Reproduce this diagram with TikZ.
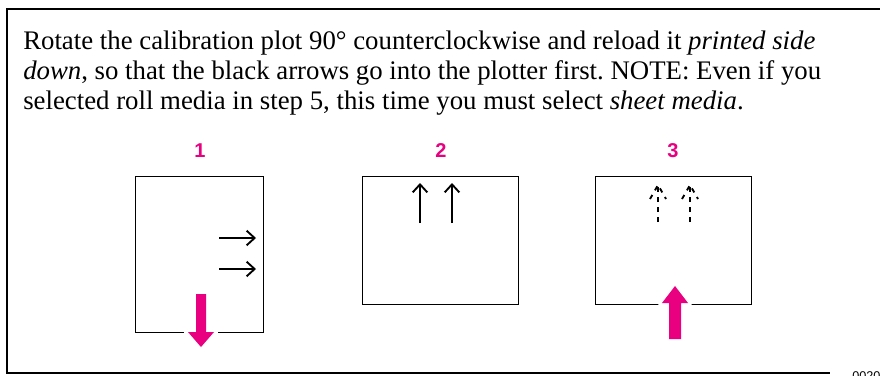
\documentclass[tikz,border=0pt]{standalone}
\usepackage{fontspec}
\setmainfont{Liberation Serif}
\newfontfamily\stepfont{Liberation Sans}
\usetikzlibrary{arrows.meta, positioning, calc}
\definecolor{feedpink}{RGB}{232,0,128}
\frenchspacing

\begin{document}
\begin{tikzpicture}[
    x=0.75pt, y=-0.75pt,
    sheet/.style={rectangle, draw, line width=0.8pt, inner sep=0pt, anchor=north west},
    steplabel/.style={text=feedpink, font=\stepfont\bfseries\fontsize{15}{15}\selectfont, inner sep=0pt, anchor=base},
    plotarrow/.style={line width=1.4pt, -{Straight Barb[length=6pt, width=11pt]}},
    dashplot/.style={line width=1.4pt, dash pattern=on 3.5pt off 4pt},
    feed/.style={fill=feedpink, preaction={draw=white, line width=6pt, line join=round}}
]
\useasboundingbox (0,0) rectangle (880,375);

% frame
\draw[line width=1pt] (880,9) -- (7,9) -- (7,373) -- (830,373);
\node[anchor=base west, inner sep=0pt, font=\stepfont\fontsize{9.5}{9.5}\selectfont] (figno) at (852,380) {0020};

% instruction text
\node[anchor=north west, inner sep=0pt, align=left, font=\fontsize{20.1}{22.2}\selectfont] (instr) at (23,31)
    {Rotate the calibration plot 90° counterclockwise and reload it \textit{printed side}\\
     \textit{down}, so that the black arrows go into the plotter first. NOTE: Even if you\\
     selected roll media in step 5, this time you must select \textit{sheet media}.};

% step numbers
\node[steplabel] (numA) at (200,157) {1};
\node[steplabel] (numB) at (441,157) {2};
\node[steplabel] (numC) at (673,157) {3};

% sheets
\node[sheet, minimum width=96pt, minimum height=117pt] (sheetA) at (135,176) {};
\node[sheet, minimum width=117pt, minimum height=96pt] (sheetB) at (362,176) {};
\node[sheet, minimum width=117pt, minimum height=96pt] (sheetC) at (595,176) {};

% sheet 1: arrows point sideways
\coordinate (a1s) at (219,238);
\coordinate (a1e) at (256,238);
\coordinate (a2s) at (219,269);
\coordinate (a2e) at (256,269);
\draw[plotarrow] (a1s) -- (a1e);
\draw[plotarrow] (a2s) -- (a2e);
\fill[feed] (196,294) -- (206,294) -- (206,332) -- (214,332) -- (201,347) -- (188,332) -- (196,332) -- cycle;

% sheet 2: rotated, arrows point up
\coordinate (b1s) at (420,223);
\coordinate (b1e) at (420,183);
\coordinate (b2s) at (452,223);
\coordinate (b2e) at (452,183);
\draw[plotarrow] (b1s) -- (b1e);
\draw[plotarrow] (b2s) -- (b2e);

% sheet 3: printed side down, arrows seen through
\foreach \xx in {658,690} {
    \draw[dashplot] (\xx,222) -- (\xx,185);
    \draw[dashplot] (\xx-8,199) -- (\xx,185) -- (\xx+8,199);
}
\fill[feed] (669,339) -- (681,339) -- (681,303) -- (688,303) -- (675,286) -- (662,303) -- (669,303) -- cycle;

\end{tikzpicture}
\end{document}
